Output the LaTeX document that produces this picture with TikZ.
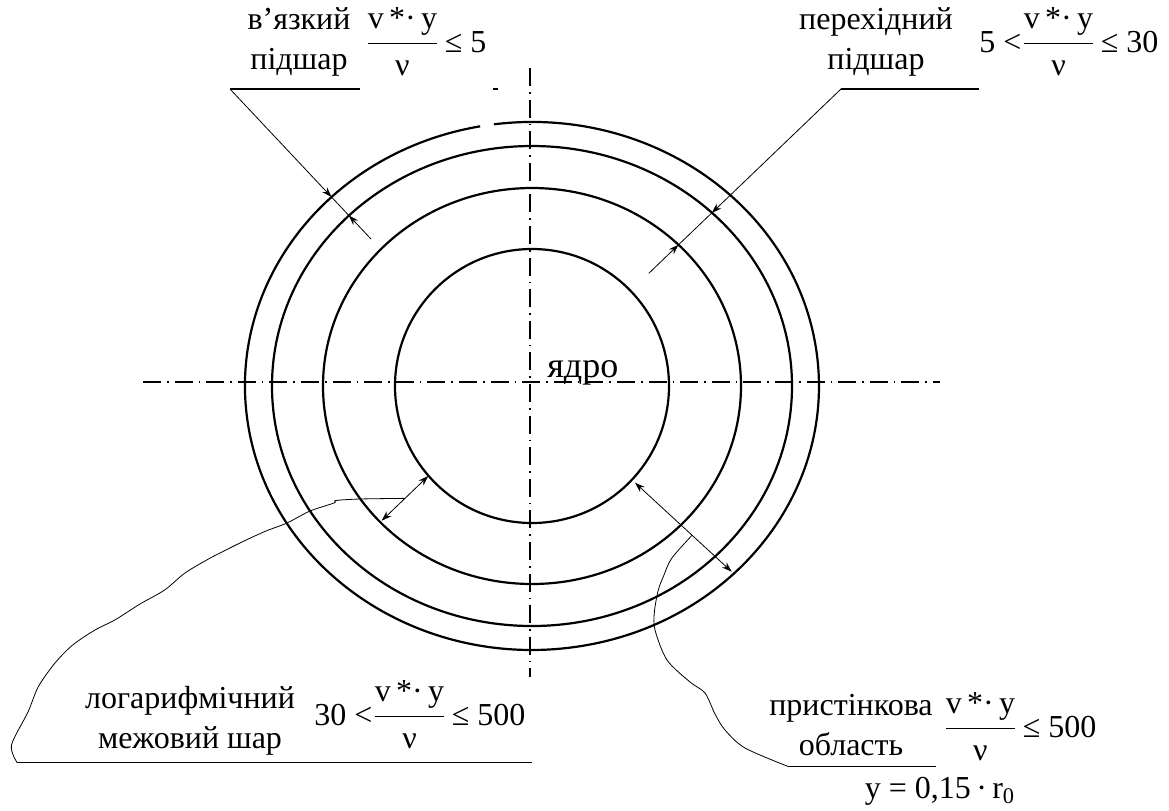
\documentclass[tikz,border=0pt]{standalone}
\usepackage{amsmath}
\usepackage{fontspec}
\setmainfont{Liberation Serif}
\usetikzlibrary{arrows.meta,calc}
\tikzset{
  >={Stealth[length=5pt,width=3.4pt]},
  ring/.style={line width=1.1pt},
  axisline/.style={line width=0.9pt,dash pattern=on 9pt off 3pt on 0.8pt off 3pt},
  lead/.style={line width=0.4pt},
  shelf/.style={line width=0.6pt},
  lbl/.style={align=center,inner sep=0pt,font=\fontsize{16}{20}\selectfont},
  frm/.style={anchor=west,inner sep=0pt,font=\fontsize{16}{20}\selectfont},
}
\newcommand{\yplus}{$\dfrac{\text{v\,*·\,y}}{\text{ν}}$}

\begin{document}
\begin{tikzpicture}[x=0.5pt,y=-0.5pt]
\useasboundingbox (0,0) rectangle (1169,810);
\coordinate (c) at (532,386);
% axes
\draw[axisline] (143,382) -- (940,382);
\draw[axisline] (530,68) -- (530,677);
% rings
\draw[ring] (494,124.3) arc[start angle=262.4,end angle=619.6,x radius=287,y radius=264];
\draw[ring] (c) ellipse[x radius=260,y radius=240];
\draw[ring] (c) ellipse[x radius=209,y radius=198];
\draw[ring] (c) circle[radius=137];
\draw[shelf] (493,89) -- (498,89);
\node[lbl,anchor=base west,font=\fontsize{18}{20}\selectfont] (core) at (547,377) {ядро};

% viscous sublayer
\node[lbl] (visc) at (299,42) {в’язкий\\підшар};
\node[frm] (viscf) at (365,42) {\yplus\,≤ 5};
\coordinate (v1) at (230,89);
\coordinate (v2) at (360,89);
\coordinate (v3) at (331.5,197);
\coordinate (v4) at (348.9,215.5);
\coordinate (v5) at (371,239);
\draw[shelf] (v2) -- (v1);
\draw[lead,->] (v1) -- (v3);
\draw[lead] (v3) -- (v4);
\draw[lead,->] (v5) -- (v4);

% transition sublayer
\node[lbl] (trans) at (876,42) {перехідний\\підшар};
\node[frm] (transf) at (979,42) {5 <\yplus\,≤ 30};
\coordinate (t1) at (841,89);
\coordinate (t2) at (979,89);
\coordinate (t3) at (711.8,212.9);
\coordinate (t4) at (678.5,244.8);
\coordinate (t5) at (648.7,273.4);
\draw[shelf] (t1) -- (t2);
\draw[lead,->] (t1) -- (t3);
\draw[lead] (t3) -- (t4);
\draw[lead,->] (t5) -- (t4);

% log layer
\node[lbl] (logl) at (190,721) {логарифмічний\\межовий шар};
\node[frm] (logf) at (314,715) {30 <\yplus\,≤ 500};
\coordinate (l1) at (428.3,476);
\coordinate (l2) at (381.7,520.7);
\coordinate (l0) at ($(l1)!0.5!(l2)$);
\coordinate (l3) at (17.2,762.7);
\coordinate (l4) at (532,762.7);
\draw[lead,<->] (l1) -- (l2);
\draw[lead] plot[smooth,tension=0.5] coordinates {(l0) (360,499) (336,500.5) (334,503)
  (310,511) (287,523) (266,531) (243,541.5) (220,553) (206.7,560) (185,573) (164.6,590)
  (140,604) (114.8,620) (95,630) (72.7,645) (55,663) (38.3,686.7) (28,712) (11.5,745)
  (l3)};
\draw[shelf] (l3) -- (l4);

% wall region
\node[lbl] (wall) at (851,725) {пристінкова\\область};
\node[frm] (wallf) at (943,727) {\yplus\,≤ 500};
\node[lbl] (yr) at (940,791) {y = 0,15\,·\,r\textsubscript{0}};
\coordinate (w1) at (635,482.7);
\coordinate (w2) at (731.7,571.7);
\coordinate (w0) at ($(w1)!0.59!(w2)$);
\coordinate (w3) at (788.7,766.7);
\coordinate (w4) at (935.6,766.7);
\draw[lead,<->] (w1) -- (w2);
\draw[lead] plot[smooth,tension=0.5] coordinates {(w0) (671.7,558.3) (664,575)
  (658.3,590) (654.4,612) (655,630) (667,660) (690,682) (705,693) (715,714) (725,730)
  (745,748) (w3)};
\draw[shelf] (w3) -- (w4);
\end{tikzpicture}
\end{document}
